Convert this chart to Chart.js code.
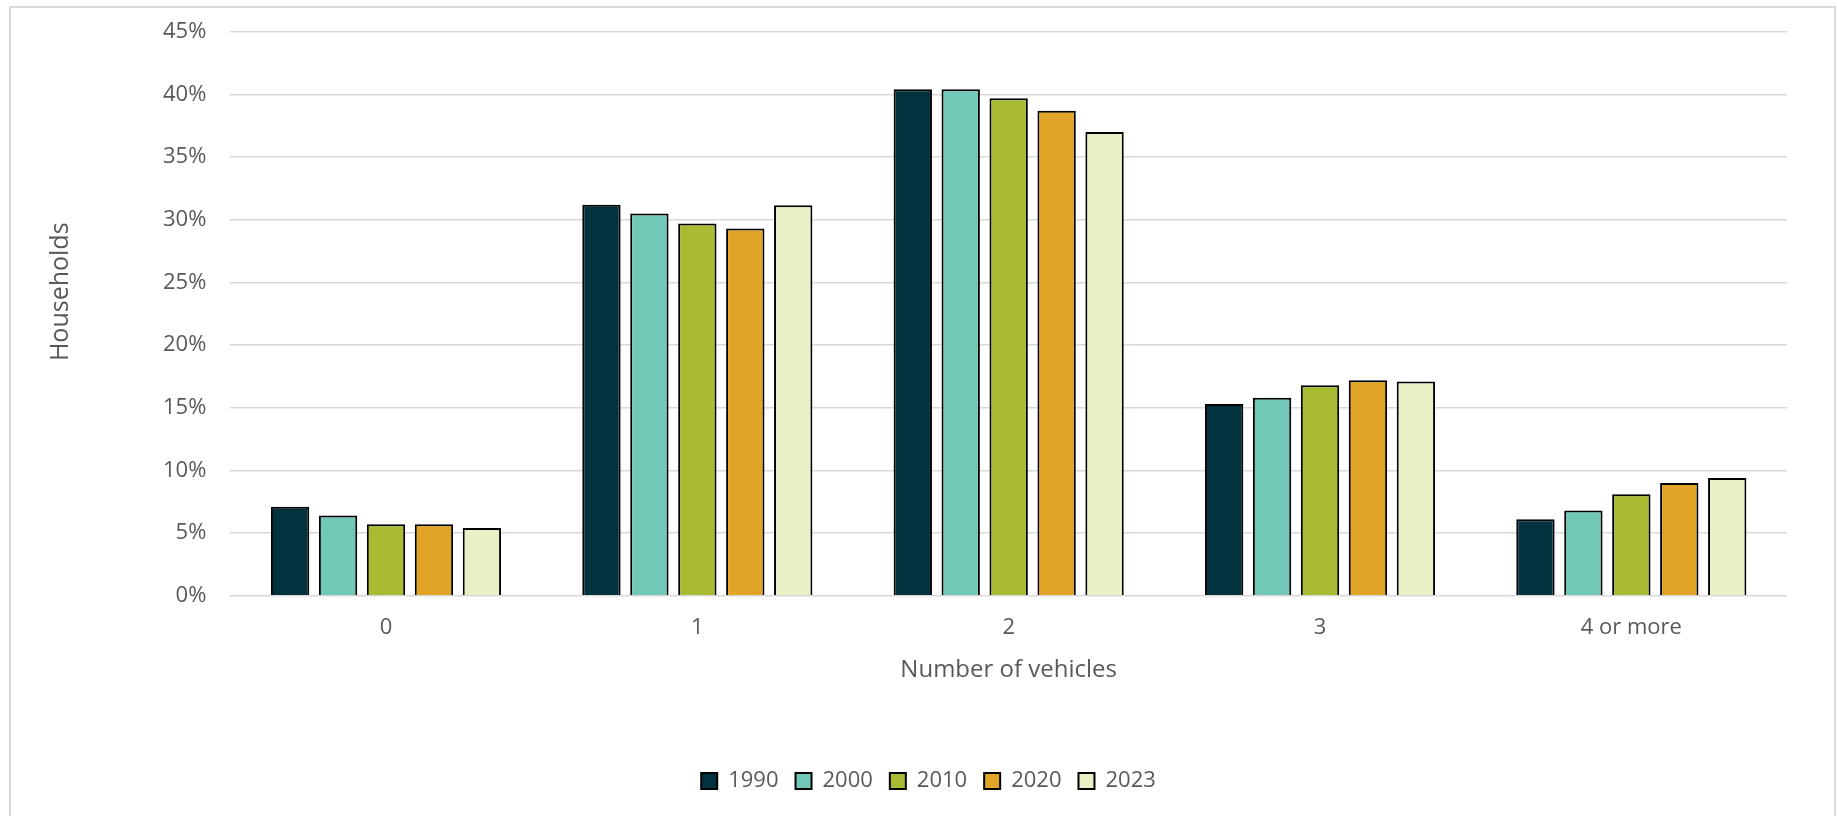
<!DOCTYPE html>
<html>
<head>
<meta charset="utf-8">
<script src="https://cdn.jsdelivr.net/npm/chart.js@4.4.1/dist/chart.umd.min.js"></script>
<style>
  html, body { margin: 0; padding: 0; background: #fff; }
  #wrap { position: relative; width: 1837px; height: 816px; }
  #frame {
    position: absolute; left: 9px; top: 6px; width: 1823px; height: 820px;
    border: 2px solid #d9d9d9; border-bottom: none; pointer-events: none;
  }
</style>
</head>
<body>
<div id="wrap">
  <canvas id="myChart" width="1837" height="816"></canvas>
  <div id="frame"></div>
</div>
<script>
const categories = ["0", "1", "2", "3", "4 or more"];
const years = ["1990", "2000", "2010", "2020", "2023"];

// share of households, percent
const share1990 = [7.1, 31.2, 40.4, 15.3, 6.1];
const share2000 = [6.4, 30.5, 40.4, 15.8, 6.8];
const share2010 = [5.7, 29.7, 39.7, 16.8, 8.1];
const share2020 = [5.7, 29.3, 38.7, 17.2, 9.0];
const share2023 = [5.4, 31.15, 37.0, 17.1, 9.4];

const yTicks = [0, 5, 10, 15, 20, 25, 30, 35, 40, 45];

const COLORS = ["#02323d", "#71c8b7", "#a9bb32", "#e0a526", "#e8f0c6"];
const TEXT = "#595959";
const FONT = "'Open Sans'";

const series = [share1990, share2000, share2010, share2020, share2023];

// y title drawn by hand so it can sit a bit above the axis middle
const yTitle = {
  id: "yTitle",
  afterDraw(chart) {
    const { ctx, chartArea } = chart;
    ctx.save();
    ctx.fillStyle = TEXT;
    ctx.font = `25px ${FONT}`;
    ctx.textAlign = "center";
    ctx.textBaseline = "middle";
    ctx.translate(61, (chartArea.top + chartArea.bottom) / 2 - 22);
    ctx.rotate(-Math.PI / 2);
    ctx.fillText("Households", 0, 0);
    ctx.restore();
  },
};

// centre the legend on the canvas rather than on the padded box
const legendSpan = {
  id: "legendSpan",
  beforeDraw(chart) {
    const lg = chart.legend;
    lg.left = 20;
    lg.right = chart.width;
    lg.width = chart.width - 20;
  },
};

const ctx = document.getElementById("myChart").getContext("2d");
const myChart = new Chart(ctx, {
  type: "bar",
  data: {
    labels: categories,
    datasets: years.map((y, i) => ({
      label: y,
      data: series[i],
      backgroundColor: COLORS[i],
      borderColor: "#000",
      borderWidth: 2,
      categoryPercentage: 0.77,
      barPercentage: 0.8,
    })),
  },
  options: {
    responsive: false,
    devicePixelRatio: 1,
    animation: false,
    layout: {
      padding: { left: 139, right: 50, top: 15, bottom: 14 },
    },
    plugins: {
      legend: {
        position: "bottom",
        labels: {
          color: TEXT,
          font: { family: FONT, size: 22 },
          boxWidth: 16,
          boxHeight: 16,
          padding: 17,
        },
      },
      tooltip: { enabled: false },
    },
    scales: {
      x: {
        grid: { display: false },
        border: { display: false },
        ticks: {
          color: TEXT,
          font: { family: FONT, size: 22 },
          padding: 11,
        },
        title: {
          display: true,
          text: "Number of vehicles",
          color: TEXT,
          font: { family: FONT, size: 24 },
          padding: { top: 4, bottom: 68 },
        },
      },
      y: {
        min: 0,
        max: 45,
        afterBuildTicks: (axis) => {
          axis.ticks = yTicks.map((v) => ({ value: v }));
        },
        grid: { color: "#d9d9d9", lineWidth: 1.5, drawTicks: false },
        border: { display: false },
        ticks: {
          color: TEXT,
          font: { family: FONT, size: 22, lineHeight: 0.7 },
          padding: 24,
          callback: (v) => v + "%",
        },
      },
    },
  },
  plugins: [yTitle, legendSpan],
});
</script>
</body>
</html>
